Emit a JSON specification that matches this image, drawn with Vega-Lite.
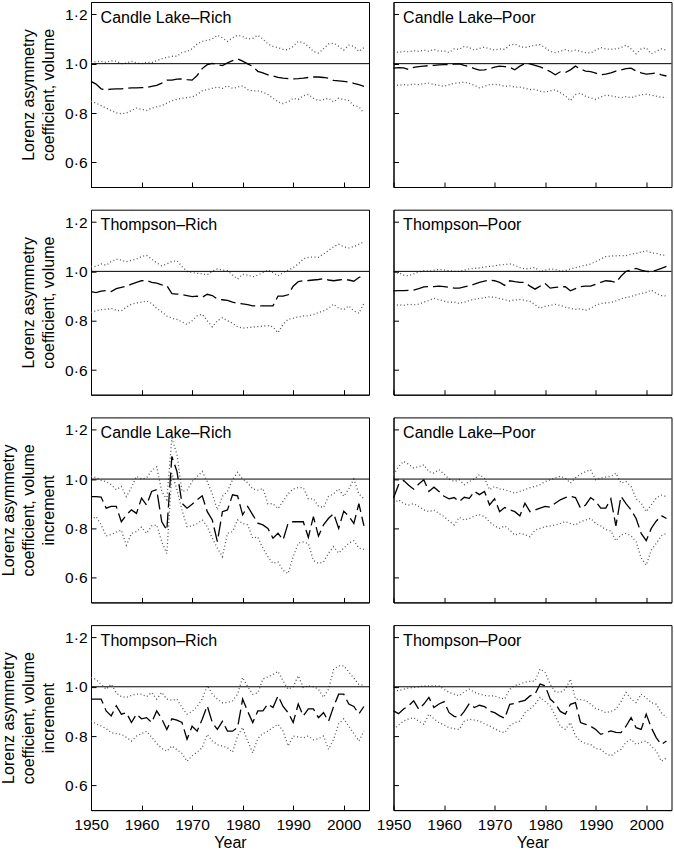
{
"$schema":"https://vega.github.io/schema/vega-lite/v6.json",
"padding":{"left":0,"top":1,"right":1,"bottom":0},
"background":"white",
"spacing":20.7,
"config":{
 "view":{"stroke":"black","strokeWidth":1},
 "axis":{"domainColor":"black","domainWidth":1,"tickColor":"black","tickSize":-5,"labelColor":"black","titleColor":"black","labelFont":"Liberation Sans","titleFont":"Liberation Sans","labelFontSize":15.5,"titleFontSize":16,"titleFontWeight":"normal","grid":false,"labelOverlap":false,"labelFlush":false,"labelPadding":9,"titleLineHeight":20},
 "axisX":{"labelPadding":12}
},
"datasets":{
"a":[
{"yr":1950,"lo":0.848,"mid":0.928,"hi":1.005},{"yr":1951,"lo":0.84,"mid":0.917,"hi":1.008},{"yr":1952,"lo":0.83,"mid":0.898,"hi":1.01},{"yr":1953,"lo":0.82,"mid":0.894,"hi":1.005},{"yr":1954,"lo":0.81,"mid":0.897,"hi":1.012},{"yr":1955,"lo":0.8,"mid":0.898,"hi":1.01},{"yr":1956,"lo":0.797,"mid":0.898,"hi":1.0},{"yr":1957,"lo":0.8,"mid":0.9,"hi":1.002},{"yr":1958,"lo":0.81,"mid":0.902,"hi":1.01},{"yr":1959,"lo":0.82,"mid":0.902,"hi":1.003},
{"yr":1960,"lo":0.815,"mid":0.903,"hi":1.0},{"yr":1961,"lo":0.81,"mid":0.903,"hi":1.006},{"yr":1962,"lo":0.82,"mid":0.908,"hi":1.004},{"yr":1963,"lo":0.825,"mid":0.912,"hi":1.012},{"yr":1964,"lo":0.83,"mid":0.921,"hi":1.02},{"yr":1965,"lo":0.84,"mid":0.933,"hi":1.025},{"yr":1966,"lo":0.85,"mid":0.933,"hi":1.03},{"yr":1967,"lo":0.855,"mid":0.937,"hi":1.03},{"yr":1968,"lo":0.86,"mid":0.938,"hi":1.045},{"yr":1969,"lo":0.862,"mid":0.935,"hi":1.05},
{"yr":1970,"lo":0.865,"mid":0.933,"hi":1.06},{"yr":1971,"lo":0.875,"mid":0.952,"hi":1.08},{"yr":1972,"lo":0.89,"mid":0.98,"hi":1.09},{"yr":1973,"lo":0.895,"mid":0.996,"hi":1.095},{"yr":1974,"lo":0.9,"mid":1.001,"hi":1.1},{"yr":1975,"lo":0.905,"mid":0.996,"hi":1.115},{"yr":1976,"lo":0.9,"mid":0.992,"hi":1.105},{"yr":1977,"lo":0.91,"mid":1.003,"hi":1.09},{"yr":1978,"lo":0.9,"mid":1.012,"hi":1.105},{"yr":1979,"lo":0.905,"mid":1.019,"hi":1.115},
{"yr":1980,"lo":0.91,"mid":1.01,"hi":1.11},{"yr":1981,"lo":0.895,"mid":0.999,"hi":1.1},{"yr":1982,"lo":0.89,"mid":0.989,"hi":1.103},{"yr":1983,"lo":0.89,"mid":0.969,"hi":1.115},{"yr":1984,"lo":0.885,"mid":0.963,"hi":1.1},{"yr":1985,"lo":0.875,"mid":0.955,"hi":1.08},{"yr":1986,"lo":0.86,"mid":0.95,"hi":1.07},{"yr":1987,"lo":0.845,"mid":0.944,"hi":1.065},{"yr":1988,"lo":0.838,"mid":0.941,"hi":1.058},{"yr":1989,"lo":0.845,"mid":0.939,"hi":1.056},
{"yr":1990,"lo":0.86,"mid":0.938,"hi":1.07},{"yr":1991,"lo":0.855,"mid":0.939,"hi":1.09},{"yr":1992,"lo":0.87,"mid":0.941,"hi":1.085},{"yr":1993,"lo":0.875,"mid":0.944,"hi":1.07},{"yr":1994,"lo":0.86,"mid":0.946,"hi":1.05},{"yr":1995,"lo":0.85,"mid":0.946,"hi":1.043},{"yr":1996,"lo":0.855,"mid":0.944,"hi":1.06},{"yr":1997,"lo":0.86,"mid":0.941,"hi":1.08},{"yr":1998,"lo":0.845,"mid":0.932,"hi":1.083},{"yr":1999,"lo":0.86,"mid":0.93,"hi":1.07},
{"yr":2000,"lo":0.855,"mid":0.928,"hi":1.055},{"yr":2001,"lo":0.85,"mid":0.926,"hi":1.075},{"yr":2002,"lo":0.83,"mid":0.92,"hi":1.07},{"yr":2003,"lo":0.825,"mid":0.915,"hi":1.05},{"yr":2004,"lo":0.8,"mid":0.908,"hi":1.065}
],
"b":[
{"yr":1950,"lo":0.914,"mid":0.982,"hi":1.05},{"yr":1951,"lo":0.912,"mid":0.984,"hi":1.045},{"yr":1952,"lo":0.915,"mid":0.983,"hi":1.05},{"yr":1953,"lo":0.913,"mid":0.976,"hi":1.048},{"yr":1954,"lo":0.917,"mid":0.985,"hi":1.052},{"yr":1955,"lo":0.915,"mid":0.988,"hi":1.05},{"yr":1956,"lo":0.919,"mid":0.99,"hi":1.055},{"yr":1957,"lo":0.921,"mid":0.992,"hi":1.05},{"yr":1958,"lo":0.916,"mid":0.993,"hi":1.058},{"yr":1959,"lo":0.912,"mid":0.995,"hi":1.05},
{"yr":1960,"lo":0.908,"mid":0.996,"hi":1.052},{"yr":1961,"lo":0.915,"mid":0.997,"hi":1.045},{"yr":1962,"lo":0.92,"mid":0.998,"hi":1.06},{"yr":1963,"lo":0.922,"mid":0.999,"hi":1.058},{"yr":1964,"lo":0.925,"mid":0.993,"hi":1.07},{"yr":1965,"lo":0.92,"mid":0.988,"hi":1.065},{"yr":1966,"lo":0.912,"mid":0.98,"hi":1.055},{"yr":1967,"lo":0.902,"mid":0.974,"hi":1.062},{"yr":1968,"lo":0.908,"mid":0.975,"hi":1.067},{"yr":1969,"lo":0.915,"mid":0.98,"hi":1.06},
{"yr":1970,"lo":0.916,"mid":0.986,"hi":1.055},{"yr":1971,"lo":0.914,"mid":0.99,"hi":1.06},{"yr":1972,"lo":0.908,"mid":0.988,"hi":1.058},{"yr":1973,"lo":0.91,"mid":0.985,"hi":1.075},{"yr":1974,"lo":0.905,"mid":0.975,"hi":1.08},{"yr":1975,"lo":0.905,"mid":0.99,"hi":1.07},{"yr":1976,"lo":0.9,"mid":1.0,"hi":1.065},{"yr":1977,"lo":0.895,"mid":0.999,"hi":1.07},{"yr":1978,"lo":0.896,"mid":0.993,"hi":1.075},{"yr":1979,"lo":0.888,"mid":0.987,"hi":1.077},
{"yr":1980,"lo":0.885,"mid":0.978,"hi":1.065},{"yr":1981,"lo":0.89,"mid":0.968,"hi":1.05},{"yr":1982,"lo":0.894,"mid":0.955,"hi":1.045},{"yr":1983,"lo":0.882,"mid":0.967,"hi":1.05},{"yr":1984,"lo":0.87,"mid":0.964,"hi":1.057},{"yr":1985,"lo":0.85,"mid":0.975,"hi":1.05},{"yr":1986,"lo":0.875,"mid":0.99,"hi":1.055},{"yr":1987,"lo":0.88,"mid":0.978,"hi":1.05},{"yr":1988,"lo":0.868,"mid":0.97,"hi":1.045},{"yr":1989,"lo":0.862,"mid":0.968,"hi":1.043},
{"yr":1990,"lo":0.855,"mid":0.962,"hi":1.055},{"yr":1991,"lo":0.865,"mid":0.955,"hi":1.065},{"yr":1992,"lo":0.872,"mid":0.958,"hi":1.06},{"yr":1993,"lo":0.87,"mid":0.963,"hi":1.058},{"yr":1994,"lo":0.865,"mid":0.97,"hi":1.06},{"yr":1995,"lo":0.862,"mid":0.975,"hi":1.065},{"yr":1996,"lo":0.866,"mid":0.98,"hi":1.075},{"yr":1997,"lo":0.862,"mid":0.982,"hi":1.06},{"yr":1998,"lo":0.868,"mid":0.97,"hi":1.04},{"yr":1999,"lo":0.874,"mid":0.963,"hi":1.06},
{"yr":2000,"lo":0.876,"mid":0.958,"hi":1.064},{"yr":2001,"lo":0.873,"mid":0.96,"hi":1.04},{"yr":2002,"lo":0.868,"mid":0.962,"hi":1.05},{"yr":2003,"lo":0.864,"mid":0.955,"hi":1.06},{"yr":2004,"lo":0.862,"mid":0.95,"hi":1.055}
],
"c":[
{"yr":1950,"lo":0.833,"mid":0.918,"hi":1.019},{"yr":1951,"lo":0.84,"mid":0.914,"hi":1.02},{"yr":1952,"lo":0.845,"mid":0.92,"hi":1.03},{"yr":1953,"lo":0.846,"mid":0.922,"hi":1.025},{"yr":1954,"lo":0.85,"mid":0.918,"hi":1.04},{"yr":1955,"lo":0.842,"mid":0.93,"hi":1.05},{"yr":1956,"lo":0.84,"mid":0.935,"hi":1.045},{"yr":1957,"lo":0.855,"mid":0.94,"hi":1.039},{"yr":1958,"lo":0.867,"mid":0.948,"hi":1.045},{"yr":1959,"lo":0.872,"mid":0.955,"hi":1.05},
{"yr":1960,"lo":0.875,"mid":0.962,"hi":1.06},{"yr":1961,"lo":0.88,"mid":0.963,"hi":1.065},{"yr":1962,"lo":0.87,"mid":0.955,"hi":1.05},{"yr":1963,"lo":0.85,"mid":0.952,"hi":1.035},{"yr":1964,"lo":0.835,"mid":0.945,"hi":1.023},{"yr":1965,"lo":0.819,"mid":0.942,"hi":1.03},{"yr":1966,"lo":0.81,"mid":0.91,"hi":1.04},{"yr":1967,"lo":0.805,"mid":0.908,"hi":1.043},{"yr":1968,"lo":0.795,"mid":0.906,"hi":1.02},{"yr":1969,"lo":0.785,"mid":0.902,"hi":1.0},
{"yr":1970,"lo":0.8,"mid":0.898,"hi":0.995},{"yr":1971,"lo":0.82,"mid":0.9,"hi":0.992},{"yr":1972,"lo":0.826,"mid":0.895,"hi":0.99},{"yr":1973,"lo":0.8,"mid":0.907,"hi":0.986},{"yr":1974,"lo":0.775,"mid":0.902,"hi":1.0},{"yr":1975,"lo":0.8,"mid":0.888,"hi":1.01},{"yr":1976,"lo":0.812,"mid":0.885,"hi":1.005},{"yr":1977,"lo":0.8,"mid":0.882,"hi":1.003},{"yr":1978,"lo":0.79,"mid":0.875,"hi":0.985},{"yr":1979,"lo":0.775,"mid":0.87,"hi":0.969},
{"yr":1980,"lo":0.77,"mid":0.868,"hi":0.988},{"yr":1981,"lo":0.772,"mid":0.865,"hi":0.985},{"yr":1982,"lo":0.774,"mid":0.86,"hi":0.978},{"yr":1983,"lo":0.776,"mid":0.86,"hi":0.985},{"yr":1984,"lo":0.778,"mid":0.86,"hi":0.995},{"yr":1985,"lo":0.78,"mid":0.86,"hi":1.005},{"yr":1986,"lo":0.775,"mid":0.86,"hi":0.995},{"yr":1987,"lo":0.751,"mid":0.9,"hi":0.982},{"yr":1988,"lo":0.785,"mid":0.9,"hi":0.995},{"yr":1989,"lo":0.806,"mid":0.905,"hi":1.005},
{"yr":1990,"lo":0.81,"mid":0.94,"hi":1.015},{"yr":1991,"lo":0.815,"mid":0.958,"hi":1.03},{"yr":1992,"lo":0.819,"mid":0.962,"hi":1.05},{"yr":1993,"lo":0.82,"mid":0.963,"hi":1.057},{"yr":1994,"lo":0.825,"mid":0.965,"hi":1.058},{"yr":1995,"lo":0.833,"mid":0.967,"hi":1.057},{"yr":1996,"lo":0.84,"mid":0.97,"hi":1.07},{"yr":1997,"lo":0.85,"mid":0.965,"hi":1.085},{"yr":1998,"lo":0.867,"mid":0.962,"hi":1.1},{"yr":1999,"lo":0.85,"mid":0.965,"hi":1.11},
{"yr":2000,"lo":0.845,"mid":0.967,"hi":1.1},{"yr":2001,"lo":0.86,"mid":0.965,"hi":1.095},{"yr":2002,"lo":0.84,"mid":0.96,"hi":1.1},{"yr":2003,"lo":0.83,"mid":0.975,"hi":1.11},{"yr":2004,"lo":0.87,"mid":0.985,"hi":1.12}
],
"d":[
{"yr":1950,"lo":0.86,"mid":0.921,"hi":0.99},{"yr":1951,"lo":0.865,"mid":0.922,"hi":0.995},{"yr":1952,"lo":0.862,"mid":0.922,"hi":0.985},{"yr":1953,"lo":0.866,"mid":0.923,"hi":0.982},{"yr":1954,"lo":0.865,"mid":0.924,"hi":0.99},{"yr":1955,"lo":0.867,"mid":0.93,"hi":0.998},{"yr":1956,"lo":0.875,"mid":0.937,"hi":1.003},{"yr":1957,"lo":0.882,"mid":0.938,"hi":1.0},{"yr":1958,"lo":0.891,"mid":0.938,"hi":1.005},{"yr":1959,"lo":0.885,"mid":0.94,"hi":1.008},
{"yr":1960,"lo":0.88,"mid":0.938,"hi":1.006},{"yr":1961,"lo":0.874,"mid":0.935,"hi":1.003},{"yr":1962,"lo":0.876,"mid":0.932,"hi":1.0},{"yr":1963,"lo":0.87,"mid":0.932,"hi":1.0},{"yr":1964,"lo":0.875,"mid":0.937,"hi":1.005},{"yr":1965,"lo":0.882,"mid":0.942,"hi":1.01},{"yr":1966,"lo":0.887,"mid":0.948,"hi":1.012},{"yr":1967,"lo":0.89,"mid":0.955,"hi":1.014},{"yr":1968,"lo":0.893,"mid":0.96,"hi":1.018},{"yr":1969,"lo":0.897,"mid":0.965,"hi":1.02},
{"yr":1970,"lo":0.895,"mid":0.962,"hi":1.022},{"yr":1971,"lo":0.89,"mid":0.955,"hi":1.026},{"yr":1972,"lo":0.885,"mid":0.943,"hi":1.028},{"yr":1973,"lo":0.88,"mid":0.962,"hi":1.03},{"yr":1974,"lo":0.884,"mid":0.958,"hi":1.025},{"yr":1975,"lo":0.886,"mid":0.955,"hi":1.015},{"yr":1976,"lo":0.883,"mid":0.955,"hi":1.01},{"yr":1977,"lo":0.878,"mid":0.94,"hi":1.012},{"yr":1978,"lo":0.865,"mid":0.928,"hi":1.016},{"yr":1979,"lo":0.85,"mid":0.94,"hi":0.998},
{"yr":1980,"lo":0.858,"mid":0.951,"hi":1.005},{"yr":1981,"lo":0.862,"mid":0.932,"hi":1.01},{"yr":1982,"lo":0.866,"mid":0.935,"hi":1.008},{"yr":1983,"lo":0.862,"mid":0.937,"hi":1.0},{"yr":1984,"lo":0.855,"mid":0.938,"hi":1.003},{"yr":1985,"lo":0.85,"mid":0.921,"hi":1.01},{"yr":1986,"lo":0.846,"mid":0.93,"hi":1.015},{"yr":1987,"lo":0.848,"mid":0.938,"hi":1.02},{"yr":1988,"lo":0.842,"mid":0.94,"hi":1.025},{"yr":1989,"lo":0.85,"mid":0.94,"hi":1.03},
{"yr":1990,"lo":0.862,"mid":0.948,"hi":1.04},{"yr":1991,"lo":0.87,"mid":0.955,"hi":1.05},{"yr":1992,"lo":0.872,"mid":0.962,"hi":1.06},{"yr":1993,"lo":0.874,"mid":0.96,"hi":1.062},{"yr":1994,"lo":0.88,"mid":0.955,"hi":1.063},{"yr":1995,"lo":0.888,"mid":0.98,"hi":1.064},{"yr":1996,"lo":0.894,"mid":1.0,"hi":1.064},{"yr":1997,"lo":0.898,"mid":1.005,"hi":1.07},{"yr":1998,"lo":0.905,"mid":1.012,"hi":1.073},{"yr":1999,"lo":0.91,"mid":1.005,"hi":1.078},
{"yr":2000,"lo":0.915,"mid":1.0,"hi":1.084},{"yr":2001,"lo":0.924,"mid":0.999,"hi":1.075},{"yr":2002,"lo":0.91,"mid":1.005,"hi":1.073},{"yr":2003,"lo":0.902,"mid":1.012,"hi":1.066},{"yr":2004,"lo":0.9,"mid":1.02,"hi":1.065}
],
"e":[
{"yr":1950,"lo":0.834,"mid":0.929,"hi":1.011},{"yr":1951,"lo":0.848,"mid":0.929,"hi":1.006},{"yr":1952,"lo":0.814,"mid":0.927,"hi":0.995},{"yr":1953,"lo":0.77,"mid":0.882,"hi":0.99},{"yr":1954,"lo":0.775,"mid":0.889,"hi":0.977},{"yr":1955,"lo":0.785,"mid":0.889,"hi":0.957},{"yr":1956,"lo":0.793,"mid":0.827,"hi":0.97},{"yr":1957,"lo":0.732,"mid":0.855,"hi":0.929},{"yr":1958,"lo":0.78,"mid":0.875,"hi":0.966},{"yr":1959,"lo":0.787,"mid":0.861,"hi":1.011},
{"yr":1960,"lo":0.805,"mid":0.923,"hi":1.0},{"yr":1961,"lo":0.78,"mid":0.895,"hi":1.005},{"yr":1962,"lo":0.81,"mid":0.95,"hi":1.035},{"yr":1963,"lo":0.814,"mid":0.957,"hi":1.05},{"yr":1964,"lo":0.746,"mid":0.827,"hi":0.95},{"yr":1965,"lo":0.698,"mid":0.793,"hi":0.916},{"yr":1966,"lo":1.024,"mid":1.092,"hi":1.167},{"yr":1967,"lo":0.957,"mid":1.031,"hi":1.1},{"yr":1968,"lo":0.875,"mid":0.902,"hi":0.95},{"yr":1969,"lo":0.807,"mid":0.882,"hi":0.955},
{"yr":1970,"lo":0.81,"mid":0.898,"hi":0.99},{"yr":1971,"lo":0.82,"mid":0.916,"hi":1.01},{"yr":1972,"lo":0.834,"mid":0.932,"hi":1.031},{"yr":1973,"lo":0.807,"mid":0.868,"hi":0.99},{"yr":1974,"lo":0.76,"mid":0.834,"hi":0.94},{"yr":1975,"lo":0.72,"mid":0.746,"hi":0.875},{"yr":1976,"lo":0.685,"mid":0.868,"hi":0.93},{"yr":1977,"lo":0.78,"mid":0.875,"hi":0.95},{"yr":1978,"lo":0.787,"mid":0.936,"hi":0.997},{"yr":1979,"lo":0.834,"mid":0.932,"hi":1.027},
{"yr":1980,"lo":0.82,"mid":0.855,"hi":1.0},{"yr":1981,"lo":0.814,"mid":0.889,"hi":0.985},{"yr":1982,"lo":0.76,"mid":0.855,"hi":0.96},{"yr":1983,"lo":0.765,"mid":0.821,"hi":0.955},{"yr":1984,"lo":0.72,"mid":0.814,"hi":0.962},{"yr":1985,"lo":0.685,"mid":0.8,"hi":0.9},{"yr":1986,"lo":0.658,"mid":0.76,"hi":0.9},{"yr":1987,"lo":0.664,"mid":0.78,"hi":0.88},{"yr":1988,"lo":0.63,"mid":0.753,"hi":0.91},{"yr":1989,"lo":0.617,"mid":0.821,"hi":0.94},
{"yr":1990,"lo":0.685,"mid":0.827,"hi":0.96},{"yr":1991,"lo":0.74,"mid":0.827,"hi":0.965},{"yr":1992,"lo":0.745,"mid":0.827,"hi":0.965},{"yr":1993,"lo":0.739,"mid":0.764,"hi":0.92},{"yr":1994,"lo":0.67,"mid":0.848,"hi":0.92},{"yr":1995,"lo":0.658,"mid":0.769,"hi":0.89},{"yr":1996,"lo":0.664,"mid":0.814,"hi":0.885},{"yr":1997,"lo":0.7,"mid":0.841,"hi":0.93},{"yr":1998,"lo":0.726,"mid":0.86,"hi":0.94},{"yr":1999,"lo":0.7,"mid":0.8,"hi":0.96},
{"yr":2000,"lo":0.72,"mid":0.87,"hi":0.93},{"yr":2001,"lo":0.74,"mid":0.85,"hi":0.96},{"yr":2002,"lo":0.75,"mid":0.82,"hi":1.0},{"yr":2003,"lo":0.72,"mid":0.9,"hi":0.94},{"yr":2004,"lo":0.715,"mid":0.81,"hi":0.92}
],
"f":[
{"yr":1950,"lo":0.902,"mid":0.923,"hi":1.018},{"yr":1951,"lo":0.916,"mid":0.977,"hi":1.05},{"yr":1952,"lo":0.9,"mid":0.995,"hi":1.072},{"yr":1953,"lo":0.895,"mid":0.975,"hi":1.06},{"yr":1954,"lo":0.9,"mid":0.959,"hi":1.045},{"yr":1955,"lo":0.889,"mid":0.98,"hi":1.05},{"yr":1956,"lo":0.875,"mid":0.997,"hi":1.058},{"yr":1957,"lo":0.868,"mid":0.95,"hi":1.03},{"yr":1958,"lo":0.875,"mid":0.967,"hi":1.024},{"yr":1959,"lo":0.86,"mid":0.95,"hi":1.038},
{"yr":1960,"lo":0.848,"mid":0.93,"hi":1.02},{"yr":1961,"lo":0.83,"mid":0.92,"hi":1.0},{"yr":1962,"lo":0.814,"mid":0.925,"hi":0.99},{"yr":1963,"lo":0.845,"mid":0.909,"hi":0.997},{"yr":1964,"lo":0.834,"mid":0.926,"hi":0.977},{"yr":1965,"lo":0.84,"mid":0.922,"hi":0.99},{"yr":1966,"lo":0.85,"mid":0.95,"hi":1.0},{"yr":1967,"lo":0.855,"mid":0.937,"hi":1.018},{"yr":1968,"lo":0.848,"mid":0.95,"hi":1.004},{"yr":1969,"lo":0.827,"mid":0.895,"hi":0.957},
{"yr":1970,"lo":0.81,"mid":0.92,"hi":0.97},{"yr":1971,"lo":0.8,"mid":0.868,"hi":0.96},{"yr":1972,"lo":0.81,"mid":0.885,"hi":0.957},{"yr":1973,"lo":0.793,"mid":0.875,"hi":0.95},{"yr":1974,"lo":0.773,"mid":0.868,"hi":0.943},{"yr":1975,"lo":0.78,"mid":0.851,"hi":0.95},{"yr":1976,"lo":0.775,"mid":0.902,"hi":0.957},{"yr":1977,"lo":0.766,"mid":0.868,"hi":0.965},{"yr":1978,"lo":0.793,"mid":0.875,"hi":0.97},{"yr":1979,"lo":0.8,"mid":0.882,"hi":0.977},
{"yr":1980,"lo":0.807,"mid":0.889,"hi":0.99},{"yr":1981,"lo":0.81,"mid":0.886,"hi":0.997},{"yr":1982,"lo":0.814,"mid":0.902,"hi":1.005},{"yr":1983,"lo":0.82,"mid":0.916,"hi":1.011},{"yr":1984,"lo":0.827,"mid":0.925,"hi":1.004},{"yr":1985,"lo":0.82,"mid":0.93,"hi":0.984},{"yr":1986,"lo":0.814,"mid":0.925,"hi":1.005},{"yr":1987,"lo":0.827,"mid":0.882,"hi":1.02},{"yr":1988,"lo":0.834,"mid":0.895,"hi":1.03},{"yr":1989,"lo":0.841,"mid":0.925,"hi":1.038},
{"yr":1990,"lo":0.82,"mid":0.91,"hi":0.997},{"yr":1991,"lo":0.81,"mid":0.882,"hi":1.004},{"yr":1992,"lo":0.795,"mid":0.882,"hi":1.008},{"yr":1993,"lo":0.79,"mid":0.92,"hi":1.011},{"yr":1994,"lo":0.75,"mid":0.81,"hi":1.024},{"yr":1995,"lo":0.773,"mid":0.93,"hi":0.984},{"yr":1996,"lo":0.78,"mid":0.9,"hi":0.99},{"yr":1997,"lo":0.77,"mid":0.875,"hi":0.97},{"yr":1998,"lo":0.746,"mid":0.84,"hi":0.92},{"yr":1999,"lo":0.68,"mid":0.78,"hi":0.902},
{"yr":2000,"lo":0.651,"mid":0.75,"hi":0.868},{"yr":2001,"lo":0.712,"mid":0.8,"hi":0.895},{"yr":2002,"lo":0.74,"mid":0.83,"hi":0.923},{"yr":2003,"lo":0.77,"mid":0.852,"hi":0.935},{"yr":2004,"lo":0.78,"mid":0.84,"hi":0.929}
],
"g":[
{"yr":1950,"lo":0.861,"mid":0.95,"hi":1.038},{"yr":1951,"lo":0.85,"mid":0.95,"hi":1.03},{"yr":1952,"lo":0.841,"mid":0.95,"hi":1.01},{"yr":1953,"lo":0.83,"mid":0.902,"hi":0.99},{"yr":1954,"lo":0.814,"mid":0.882,"hi":1.011},{"yr":1955,"lo":0.81,"mid":0.923,"hi":0.975},{"yr":1956,"lo":0.807,"mid":0.889,"hi":0.96},{"yr":1957,"lo":0.795,"mid":0.895,"hi":0.957},{"yr":1958,"lo":0.78,"mid":0.855,"hi":0.965},{"yr":1959,"lo":0.8,"mid":0.889,"hi":0.97},
{"yr":1960,"lo":0.81,"mid":0.87,"hi":0.97},{"yr":1961,"lo":0.82,"mid":0.875,"hi":0.96},{"yr":1962,"lo":0.795,"mid":0.855,"hi":0.977},{"yr":1963,"lo":0.77,"mid":0.902,"hi":0.95},{"yr":1964,"lo":0.75,"mid":0.87,"hi":0.977},{"yr":1965,"lo":0.739,"mid":0.827,"hi":0.95},{"yr":1966,"lo":0.76,"mid":0.87,"hi":0.945},{"yr":1967,"lo":0.745,"mid":0.865,"hi":0.95},{"yr":1968,"lo":0.73,"mid":0.855,"hi":0.916},{"yr":1969,"lo":0.698,"mid":0.787,"hi":0.889},
{"yr":1970,"lo":0.72,"mid":0.84,"hi":0.9},{"yr":1971,"lo":0.735,"mid":0.82,"hi":0.92},{"yr":1972,"lo":0.753,"mid":0.868,"hi":0.95},{"yr":1973,"lo":0.807,"mid":0.923,"hi":1.005},{"yr":1974,"lo":0.78,"mid":0.855,"hi":0.97},{"yr":1975,"lo":0.765,"mid":0.827,"hi":0.95},{"yr":1976,"lo":0.76,"mid":0.86,"hi":0.935},{"yr":1977,"lo":0.753,"mid":0.82,"hi":0.936},{"yr":1978,"lo":0.735,"mid":0.82,"hi":0.943},{"yr":1979,"lo":0.8,"mid":0.835,"hi":0.97},
{"yr":1980,"lo":0.835,"mid":0.95,"hi":1.038},{"yr":1981,"lo":0.78,"mid":0.9,"hi":1.0},{"yr":1982,"lo":0.732,"mid":0.855,"hi":0.97},{"yr":1983,"lo":0.79,"mid":0.902,"hi":0.975},{"yr":1984,"lo":0.81,"mid":0.902,"hi":1.031},{"yr":1985,"lo":0.82,"mid":0.93,"hi":1.04},{"yr":1986,"lo":0.835,"mid":0.916,"hi":1.05},{"yr":1987,"lo":0.848,"mid":0.963,"hi":1.062},{"yr":1988,"lo":0.82,"mid":0.92,"hi":1.024},{"yr":1989,"lo":0.76,"mid":0.895,"hi":0.99},
{"yr":1990,"lo":0.8,"mid":0.855,"hi":1.0},{"yr":1991,"lo":0.797,"mid":0.93,"hi":1.045},{"yr":1992,"lo":0.793,"mid":0.882,"hi":0.997},{"yr":1993,"lo":0.8,"mid":0.91,"hi":1.004},{"yr":1994,"lo":0.785,"mid":0.91,"hi":1.0},{"yr":1995,"lo":0.79,"mid":0.875,"hi":0.99},{"yr":1996,"lo":0.8,"mid":0.895,"hi":0.957},{"yr":1997,"lo":0.746,"mid":0.86,"hi":0.99},{"yr":1998,"lo":0.787,"mid":0.92,"hi":1.07},{"yr":1999,"lo":0.85,"mid":0.97,"hi":1.085},
{"yr":2000,"lo":0.87,"mid":0.97,"hi":1.085},{"yr":2001,"lo":0.84,"mid":0.93,"hi":1.06},{"yr":2002,"lo":0.81,"mid":0.92,"hi":1.035},{"yr":2003,"lo":0.78,"mid":0.89,"hi":1.01},{"yr":2004,"lo":0.82,"mid":0.92,"hi":1.005}
],
"h":[
{"yr":1950,"lo":0.827,"mid":0.902,"hi":0.984},{"yr":1951,"lo":0.845,"mid":0.891,"hi":0.985},{"yr":1952,"lo":0.861,"mid":0.91,"hi":0.99},{"yr":1953,"lo":0.87,"mid":0.923,"hi":0.995},{"yr":1954,"lo":0.875,"mid":0.943,"hi":0.997},{"yr":1955,"lo":0.86,"mid":0.909,"hi":1.0},{"yr":1956,"lo":0.848,"mid":0.93,"hi":1.004},{"yr":1957,"lo":0.889,"mid":0.957,"hi":1.004},{"yr":1958,"lo":0.87,"mid":0.916,"hi":1.004},{"yr":1959,"lo":0.855,"mid":0.93,"hi":1.004},
{"yr":1960,"lo":0.845,"mid":0.94,"hi":0.99},{"yr":1961,"lo":0.834,"mid":0.895,"hi":0.977},{"yr":1962,"lo":0.83,"mid":0.88,"hi":0.97},{"yr":1963,"lo":0.827,"mid":0.875,"hi":0.963},{"yr":1964,"lo":0.86,"mid":0.9,"hi":0.98},{"yr":1965,"lo":0.868,"mid":0.932,"hi":0.99},{"yr":1966,"lo":0.865,"mid":0.916,"hi":0.978},{"yr":1967,"lo":0.861,"mid":0.925,"hi":0.97},{"yr":1968,"lo":0.85,"mid":0.92,"hi":0.965},{"yr":1969,"lo":0.841,"mid":0.902,"hi":0.963},
{"yr":1970,"lo":0.83,"mid":0.895,"hi":0.963},{"yr":1971,"lo":0.82,"mid":0.882,"hi":0.955},{"yr":1972,"lo":0.814,"mid":0.872,"hi":0.95},{"yr":1973,"lo":0.841,"mid":0.929,"hi":0.99},{"yr":1974,"lo":0.855,"mid":0.932,"hi":1.005},{"yr":1975,"lo":0.861,"mid":0.94,"hi":1.011},{"yr":1976,"lo":0.895,"mid":0.945,"hi":1.018},{"yr":1977,"lo":0.91,"mid":0.963,"hi":1.022},{"yr":1978,"lo":0.929,"mid":0.97,"hi":1.024},{"yr":1979,"lo":0.957,"mid":1.011,"hi":1.072},
{"yr":1980,"lo":0.94,"mid":1.004,"hi":1.058},{"yr":1981,"lo":0.923,"mid":0.95,"hi":1.01},{"yr":1982,"lo":0.882,"mid":0.932,"hi":0.98},{"yr":1983,"lo":0.84,"mid":0.9,"hi":0.977},{"yr":1984,"lo":0.827,"mid":0.889,"hi":0.99},{"yr":1985,"lo":0.855,"mid":0.929,"hi":1.031},{"yr":1986,"lo":0.8,"mid":0.936,"hi":0.95},{"yr":1987,"lo":0.78,"mid":0.855,"hi":0.948},{"yr":1988,"lo":0.77,"mid":0.848,"hi":0.945},{"yr":1989,"lo":0.766,"mid":0.84,"hi":0.93},
{"yr":1990,"lo":0.75,"mid":0.827,"hi":0.912},{"yr":1991,"lo":0.746,"mid":0.807,"hi":0.905},{"yr":1992,"lo":0.73,"mid":0.814,"hi":0.895},{"yr":1993,"lo":0.719,"mid":0.821,"hi":0.9},{"yr":1994,"lo":0.735,"mid":0.815,"hi":0.909},{"yr":1995,"lo":0.746,"mid":0.814,"hi":0.94},{"yr":1996,"lo":0.775,"mid":0.84,"hi":0.977},{"yr":1997,"lo":0.787,"mid":0.875,"hi":0.95},{"yr":1998,"lo":0.766,"mid":0.834,"hi":0.936},{"yr":1999,"lo":0.775,"mid":0.827,"hi":0.97},
{"yr":2000,"lo":0.78,"mid":0.889,"hi":0.955},{"yr":2001,"lo":0.76,"mid":0.834,"hi":0.936},{"yr":2002,"lo":0.739,"mid":0.793,"hi":0.929},{"yr":2003,"lo":0.698,"mid":0.766,"hi":0.895},{"yr":2004,"lo":0.712,"mid":0.78,"hi":0.875}
]
},
"vconcat":[
 {"bounds":"flush","spacing":24.5,"hconcat":[
  {"width":278,"height":185,"data":{"name":"a"},"layer":[
   {"transform":[{"fold":["lo","mid","hi"],"as":["s","v"]}],"mark":{"type":"line","strokeWidth":1.3},"encoding":{
    "x":{"field":"yr","type":"quantitative","scale":{"domain":[1950,2005],"nice":false,"zero":false},"axis":{"values":[1950,1960,1970,1980,1990,2000],"labels":false,"title":null}},
    "y":{"field":"v","type":"quantitative","scale":{"domain":[0.5,1.25],"nice":false,"zero":false},"axis":{"values":[0.6,0.8,1.0,1.2],"labelExpr":"replace(format(datum.value,'.1f'),'.','·')","title":["Lorenz asymmetry","coefficient, volume"],"titlePadding":8}},
    "detail":{"field":"s"},
    "strokeDash":{"field":"s","type":"nominal","scale":{"domain":["hi","lo","mid"],"range":[[1,2.5],[1,2.5],[15,5]]},"legend":null},
    "color":{"field":"s","type":"nominal","scale":{"domain":["hi","lo","mid"],"range":["#555555","#555555","#000000"]},"legend":null}}},
   {"data":{"values":[{}]},"mark":{"type":"rule","color":"black","strokeWidth":1},"encoding":{"y":{"datum":1,"type":"quantitative"}}},
   {"data":{"values":[{"t":"Candle Lake–Rich"}]},"mark":{"type":"text","align":"left","baseline":"alphabetic","font":"Liberation Sans","fontSize":16,"color":"black"},"encoding":{"x":{"datum":1951.9,"type":"quantitative"},"y":{"datum":1.166,"type":"quantitative"},"text":{"field":"t"}}}
  ]},
  {"width":278,"height":185,"data":{"name":"b"},"layer":[
   {"transform":[{"fold":["lo","mid","hi"],"as":["s","v"]}],"mark":{"type":"line","strokeWidth":1.3},"encoding":{
    "x":{"field":"yr","type":"quantitative","scale":{"domain":[1950,2005],"nice":false,"zero":false},"axis":{"values":[1950,1960,1970,1980,1990,2000],"labels":false,"title":null}},
    "y":{"field":"v","type":"quantitative","scale":{"domain":[0.5,1.25],"nice":false,"zero":false},"axis":{"values":[0.6,0.8,1.0,1.2],"labels":false,"title":null}},
    "detail":{"field":"s"},
    "strokeDash":{"field":"s","type":"nominal","scale":{"domain":["hi","lo","mid"],"range":[[1,2.5],[1,2.5],[15,5]]},"legend":null},
    "color":{"field":"s","type":"nominal","scale":{"domain":["hi","lo","mid"],"range":["#555555","#555555","#000000"]},"legend":null}}},
   {"data":{"values":[{}]},"mark":{"type":"rule","color":"black","strokeWidth":1},"encoding":{"y":{"datum":1,"type":"quantitative"}}},
   {"data":{"values":[{"t":"Candle Lake–Poor"}]},"mark":{"type":"text","align":"left","baseline":"alphabetic","font":"Liberation Sans","fontSize":16,"color":"black"},"encoding":{"x":{"datum":1951.9,"type":"quantitative"},"y":{"datum":1.166,"type":"quantitative"},"text":{"field":"t"}}}
  ]}
 ]},
 {"bounds":"flush","spacing":24.5,"hconcat":[
  {"width":278,"height":185,"data":{"name":"c"},"layer":[
   {"transform":[{"fold":["lo","mid","hi"],"as":["s","v"]}],"mark":{"type":"line","strokeWidth":1.3},"encoding":{
    "x":{"field":"yr","type":"quantitative","scale":{"domain":[1950,2005],"nice":false,"zero":false},"axis":{"values":[1950,1960,1970,1980,1990,2000],"labels":false,"title":null}},
    "y":{"field":"v","type":"quantitative","scale":{"domain":[0.5,1.25],"nice":false,"zero":false},"axis":{"values":[0.6,0.8,1.0,1.2],"labelExpr":"replace(format(datum.value,'.1f'),'.','·')","title":["Lorenz asymmetry","coefficient, volume"],"titlePadding":8}},
    "detail":{"field":"s"},
    "strokeDash":{"field":"s","type":"nominal","scale":{"domain":["hi","lo","mid"],"range":[[1,2.5],[1,2.5],[15,5]]},"legend":null},
    "color":{"field":"s","type":"nominal","scale":{"domain":["hi","lo","mid"],"range":["#555555","#555555","#000000"]},"legend":null}}},
   {"data":{"values":[{}]},"mark":{"type":"rule","color":"black","strokeWidth":1},"encoding":{"y":{"datum":1,"type":"quantitative"}}},
   {"data":{"values":[{"t":"Thompson–Rich"}]},"mark":{"type":"text","align":"left","baseline":"alphabetic","font":"Liberation Sans","fontSize":16,"color":"black"},"encoding":{"x":{"datum":1951.9,"type":"quantitative"},"y":{"datum":1.166,"type":"quantitative"},"text":{"field":"t"}}}
  ]},
  {"width":278,"height":185,"data":{"name":"d"},"layer":[
   {"transform":[{"fold":["lo","mid","hi"],"as":["s","v"]}],"mark":{"type":"line","strokeWidth":1.3},"encoding":{
    "x":{"field":"yr","type":"quantitative","scale":{"domain":[1950,2005],"nice":false,"zero":false},"axis":{"values":[1950,1960,1970,1980,1990,2000],"labels":false,"title":null}},
    "y":{"field":"v","type":"quantitative","scale":{"domain":[0.5,1.25],"nice":false,"zero":false},"axis":{"values":[0.6,0.8,1.0,1.2],"labels":false,"title":null}},
    "detail":{"field":"s"},
    "strokeDash":{"field":"s","type":"nominal","scale":{"domain":["hi","lo","mid"],"range":[[1,2.5],[1,2.5],[15,5]]},"legend":null},
    "color":{"field":"s","type":"nominal","scale":{"domain":["hi","lo","mid"],"range":["#555555","#555555","#000000"]},"legend":null}}},
   {"data":{"values":[{}]},"mark":{"type":"rule","color":"black","strokeWidth":1},"encoding":{"y":{"datum":1,"type":"quantitative"}}},
   {"data":{"values":[{"t":"Thompson–Poor"}]},"mark":{"type":"text","align":"left","baseline":"alphabetic","font":"Liberation Sans","fontSize":16,"color":"black"},"encoding":{"x":{"datum":1951.9,"type":"quantitative"},"y":{"datum":1.166,"type":"quantitative"},"text":{"field":"t"}}}
  ]}
 ]},
 {"bounds":"flush","spacing":24.5,"hconcat":[
  {"width":278,"height":185,"data":{"name":"e"},"layer":[
   {"transform":[{"fold":["lo","mid","hi"],"as":["s","v"]}],"mark":{"type":"line","strokeWidth":1.3},"encoding":{
    "x":{"field":"yr","type":"quantitative","scale":{"domain":[1950,2005],"nice":false,"zero":false},"axis":{"values":[1950,1960,1970,1980,1990,2000],"labels":false,"title":null}},
    "y":{"field":"v","type":"quantitative","scale":{"domain":[0.5,1.25],"nice":false,"zero":false},"axis":{"values":[0.6,0.8,1.0,1.2],"labelExpr":"replace(format(datum.value,'.1f'),'.','·')","title":["Lorenz asymmetry","coefficient, volume","increment"],"titlePadding":8}},
    "detail":{"field":"s"},
    "strokeDash":{"field":"s","type":"nominal","scale":{"domain":["hi","lo","mid"],"range":[[1,2.5],[1,2.5],[15,5]]},"legend":null},
    "color":{"field":"s","type":"nominal","scale":{"domain":["hi","lo","mid"],"range":["#555555","#555555","#000000"]},"legend":null}}},
   {"data":{"values":[{}]},"mark":{"type":"rule","color":"black","strokeWidth":1},"encoding":{"y":{"datum":1,"type":"quantitative"}}},
   {"data":{"values":[{"t":"Candle Lake–Rich"}]},"mark":{"type":"text","align":"left","baseline":"alphabetic","font":"Liberation Sans","fontSize":16,"color":"black"},"encoding":{"x":{"datum":1951.9,"type":"quantitative"},"y":{"datum":1.166,"type":"quantitative"},"text":{"field":"t"}}}
  ]},
  {"width":278,"height":185,"data":{"name":"f"},"layer":[
   {"transform":[{"fold":["lo","mid","hi"],"as":["s","v"]}],"mark":{"type":"line","strokeWidth":1.3},"encoding":{
    "x":{"field":"yr","type":"quantitative","scale":{"domain":[1950,2005],"nice":false,"zero":false},"axis":{"values":[1950,1960,1970,1980,1990,2000],"labels":false,"title":null}},
    "y":{"field":"v","type":"quantitative","scale":{"domain":[0.5,1.25],"nice":false,"zero":false},"axis":{"values":[0.6,0.8,1.0,1.2],"labels":false,"title":null}},
    "detail":{"field":"s"},
    "strokeDash":{"field":"s","type":"nominal","scale":{"domain":["hi","lo","mid"],"range":[[1,2.5],[1,2.5],[15,5]]},"legend":null},
    "color":{"field":"s","type":"nominal","scale":{"domain":["hi","lo","mid"],"range":["#555555","#555555","#000000"]},"legend":null}}},
   {"data":{"values":[{}]},"mark":{"type":"rule","color":"black","strokeWidth":1},"encoding":{"y":{"datum":1,"type":"quantitative"}}},
   {"data":{"values":[{"t":"Candle Lake–Poor"}]},"mark":{"type":"text","align":"left","baseline":"alphabetic","font":"Liberation Sans","fontSize":16,"color":"black"},"encoding":{"x":{"datum":1951.9,"type":"quantitative"},"y":{"datum":1.166,"type":"quantitative"},"text":{"field":"t"}}}
  ]}
 ]},
 {"bounds":"flush","spacing":24.5,"hconcat":[
  {"width":278,"height":185,"data":{"name":"g"},"layer":[
   {"transform":[{"fold":["lo","mid","hi"],"as":["s","v"]}],"mark":{"type":"line","strokeWidth":1.3},"encoding":{
    "x":{"field":"yr","type":"quantitative","scale":{"domain":[1950,2005],"nice":false,"zero":false},"axis":{"values":[1950,1960,1970,1980,1990,2000],"format":"d","title":"Year","titlePadding":2}},
    "y":{"field":"v","type":"quantitative","scale":{"domain":[0.5,1.25],"nice":false,"zero":false},"axis":{"values":[0.6,0.8,1.0,1.2],"labelExpr":"replace(format(datum.value,'.1f'),'.','·')","title":["Lorenz asymmetry","coefficient, volume","increment"],"titlePadding":8}},
    "detail":{"field":"s"},
    "strokeDash":{"field":"s","type":"nominal","scale":{"domain":["hi","lo","mid"],"range":[[1,2.5],[1,2.5],[15,5]]},"legend":null},
    "color":{"field":"s","type":"nominal","scale":{"domain":["hi","lo","mid"],"range":["#555555","#555555","#000000"]},"legend":null}}},
   {"data":{"values":[{}]},"mark":{"type":"rule","color":"black","strokeWidth":1},"encoding":{"y":{"datum":1,"type":"quantitative"}}},
   {"data":{"values":[{"t":"Thompson–Rich"}]},"mark":{"type":"text","align":"left","baseline":"alphabetic","font":"Liberation Sans","fontSize":16,"color":"black"},"encoding":{"x":{"datum":1951.9,"type":"quantitative"},"y":{"datum":1.166,"type":"quantitative"},"text":{"field":"t"}}}
  ]},
  {"width":278,"height":185,"data":{"name":"h"},"layer":[
   {"transform":[{"fold":["lo","mid","hi"],"as":["s","v"]}],"mark":{"type":"line","strokeWidth":1.3},"encoding":{
    "x":{"field":"yr","type":"quantitative","scale":{"domain":[1950,2005],"nice":false,"zero":false},"axis":{"values":[1950,1960,1970,1980,1990,2000],"format":"d","title":"Year","titlePadding":2}},
    "y":{"field":"v","type":"quantitative","scale":{"domain":[0.5,1.25],"nice":false,"zero":false},"axis":{"values":[0.6,0.8,1.0,1.2],"labels":false,"title":null}},
    "detail":{"field":"s"},
    "strokeDash":{"field":"s","type":"nominal","scale":{"domain":["hi","lo","mid"],"range":[[1,2.5],[1,2.5],[15,5]]},"legend":null},
    "color":{"field":"s","type":"nominal","scale":{"domain":["hi","lo","mid"],"range":["#555555","#555555","#000000"]},"legend":null}}},
   {"data":{"values":[{}]},"mark":{"type":"rule","color":"black","strokeWidth":1},"encoding":{"y":{"datum":1,"type":"quantitative"}}},
   {"data":{"values":[{"t":"Thompson–Poor"}]},"mark":{"type":"text","align":"left","baseline":"alphabetic","font":"Liberation Sans","fontSize":16,"color":"black"},"encoding":{"x":{"datum":1951.9,"type":"quantitative"},"y":{"datum":1.166,"type":"quantitative"},"text":{"field":"t"}}}
  ]}
 ]}
]
}
